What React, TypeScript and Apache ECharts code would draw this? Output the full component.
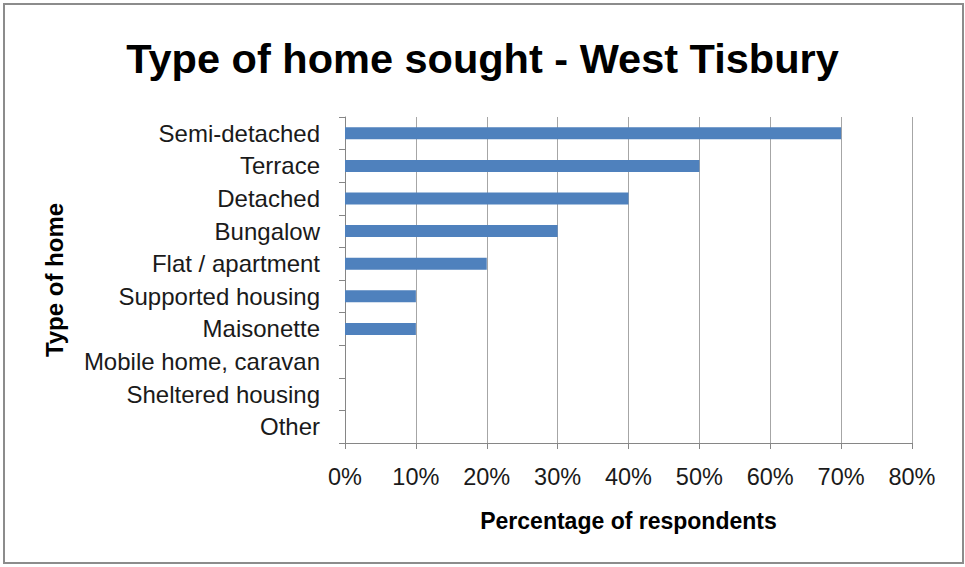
import React, { useEffect, useRef } from "react";
import * as echarts from "echarts";

const categories = [
  "Semi-detached",
  "Terrace",
  "Detached",
  "Bungalow",
  "Flat / apartment",
  "Supported housing",
  "Maisonette",
  "Mobile home, caravan",
  "Sheltered housing",
  "Other",
];
const values = [70, 50, 40, 30, 20, 10, 10, 0, 0, 0];
const xTicks = { min: 0, max: 80, interval: 10 };

export default function App() {
  const ref = useRef<HTMLDivElement>(null);
  useEffect(() => {
    document.body.style.margin = "0";
    const chart = echarts.init(ref.current!, null, { renderer: "svg" });
    const font = "'Liberation Sans', Arial, sans-serif";
    chart.setOption({
      animation: false,
      backgroundColor: "#ffffff",
      title: {
        text: "Type of home sought - West Tisbury",
        left: "center",
        top: 32,
        textStyle: { fontFamily: font, fontSize: 41.5, fontWeight: "bold", color: "#000" },
      },
      graphic: [
        {
          type: "rect",
          shape: { x: 4, y: 4, width: 959, height: 559 },
          style: { fill: "none", stroke: "#8c8c8c", lineWidth: 2 },
          silent: true,
        },
      ],
      grid: { left: 345, right: 53, top: 117, bottom: 124, containLabel: false },
      xAxis: {
        type: "value",
        min: xTicks.min,
        max: xTicks.max,
        interval: xTicks.interval,
        name: "Percentage of respondents",
        nameLocation: "middle",
        nameGap: 66,
        nameTextStyle: { fontFamily: font, fontSize: 23, fontWeight: "bold", color: "#000" },
        axisLine: { show: true, lineStyle: { color: "#868686", width: 1 } },
        axisTick: { show: true, length: 6, lineStyle: { color: "#868686" } },
        axisLabel: {
          formatter: "{value}%",
          fontFamily: font,
          fontSize: 23.5,
          color: "#1a1a1a",
          margin: 22,
        },
        splitLine: { show: true, lineStyle: { color: "#a6a6a6", width: 1 } },
      },
      yAxis: {
        type: "category",
        data: categories,
        inverse: true,
        name: "Type of home",
        nameLocation: "middle",
        nameGap: 279,
        nameRotate: 90,
        nameTextStyle: { fontFamily: font, fontSize: 24, fontWeight: "bold", color: "#000" },
        axisLine: { show: true, lineStyle: { color: "#868686", width: 1 } },
        axisTick: { show: true, length: 6, alignWithLabel: false, lineStyle: { color: "#868686" } },
        axisLabel: { fontFamily: font, fontSize: 24, color: "#1a1a1a", margin: 25 },
        splitLine: { show: false },
      },
      series: [
        {
          type: "bar",
          data: values,
          barWidth: 12,
          itemStyle: { color: "#4f81bd" },
        },
      ],
    });
    return () => chart.dispose();
  }, []);
  return <div ref={ref} style={{ width: 965, height: 567 }} />;
}
